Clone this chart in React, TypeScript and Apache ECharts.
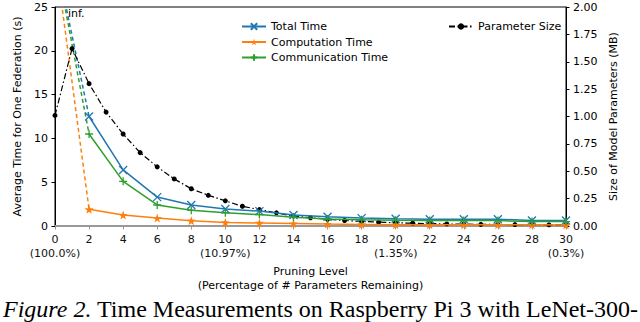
import React, { useEffect, useRef } from "react";
import * as echarts from "echarts";

const levels = [2, 4, 6, 8, 10, 12, 14, 16, 18, 20, 22, 24, 26, 28, 30];
const totalTime = [12.5, 6.4, 3.3, 2.4, 1.95, 1.7, 1.25, 1.05, 0.9, 0.82, 0.78, 0.78, 0.78, 0.62, 0.62];
const computationTime = [1.9, 1.25, 0.9, 0.6, 0.4, 0.35, 0.28, 0.22, 0.18, 0.15, 0.14, 0.14, 0.13, 0.13, 0.12];
const communicationTime = [10.5, 5.1, 2.4, 1.8, 1.5, 1.3, 1.0, 0.8, 0.7, 0.65, 0.62, 0.62, 0.62, 0.5, 0.5];
// level 0 is "inf."; drawn as an off-scale value so the dashed segment is clipped
const infValue = 31;

const paramLevels = Array.from({ length: 31 }, (_, i) => i);
const paramSize = [1.01, 1.62, 1.3, 1.04, 0.84, 0.67, 0.54, 0.43, 0.34, 0.28, 0.23, 0.18, 0.15, 0.12, 0.09, 0.075, 0.062, 0.05, 0.042, 0.035, 0.03, 0.025, 0.022, 0.019, 0.017, 0.015, 0.014, 0.013, 0.012, 0.011, 0.01];

const percentLabels: Record<number, string> = { 0: "(100.0%)", 10: "(10.97%)", 20: "(1.35%)", 30: "(0.3%)" };

const BLUE = "#1f77b4";
const ORANGE = "#ff7f0e";
const GREEN = "#2ca02c";
const FONT = "DejaVu Sans";

const X_SYM = "path://M0,0L10,10M10,0L0,10";
const PLUS_SYM = "path://M5,0L5,10M0,5L10,5";
const STAR_SYM = "path://M5,0L6.18,3.38L9.76,3.45L6.9,5.62L7.94,9.05L5,7L2.06,9.05L3.1,5.62L0.24,3.45L3.82,3.38Z";

function pairs(xs: number[], ys: number[]) {
  return xs.map((x, i) => [x, ys[i]]);
}

export default function App() {
  const ref = useRef<HTMLDivElement>(null);
  useEffect(() => {
    document.body.style.margin = "0";
    const chart = echarts.init(ref.current!, undefined, { renderer: "svg" });
    const lw = 1.5;
    chart.setOption({
      animation: false,
      textStyle: { fontFamily: FONT },
      grid: { left: 55, right: 74, top: 7, bottom: 96, show: true, borderColor: "#000", borderWidth: 1 },
      legend: [
        {
          data: ["Total Time", "Computation Time", "Communication Time"],
          orient: "vertical",
          left: 236,
          top: 15,
          itemWidth: 24,
          itemHeight: 8,
          itemGap: 2.5,
          textStyle: { fontFamily: FONT, fontSize: 11, color: "#000", lineHeight: 13 },
        },
        {
          data: ["Parameter Size"],
          orient: "vertical",
          left: 443,
          top: 15,
          itemWidth: 24,
          itemHeight: 8,
          textStyle: { fontFamily: FONT, fontSize: 11, color: "#000", lineHeight: 13 },
        },
      ],
      xAxis: {
        type: "value",
        min: 0,
        max: 30,
        interval: 2,
        name: "Pruning Level\n(Percentage of # Parameters Remaining)",
        nameLocation: "middle",
        nameGap: 34,
        nameTextStyle: { fontFamily: FONT, fontSize: 11, color: "#000", lineHeight: 14 },
        axisLine: { show: true, lineStyle: { color: "#999", width: 2 } },
        axisTick: { show: true, length: 3.5, lineStyle: { color: "#999" } },
        axisLabel: {
          margin: 6,
          fontFamily: FONT,
          fontSize: 11,
          color: "#111",
          lineHeight: 14,
          formatter: (v: number) => (percentLabels[v] ? `${v}\n${percentLabels[v]}` : `${v}`),
        },
        splitLine: { show: false },
      },
      yAxis: [
        {
          type: "value",
          min: 0,
          max: 25,
          interval: 5,
          name: "Average Time for One Federation (s)",
          nameLocation: "middle",
          nameGap: 29,
          nameRotate: 90,
          nameTextStyle: { fontFamily: FONT, fontSize: 11, color: "#000" },
          axisLine: { show: true, lineStyle: { color: "#000" } },
          axisTick: { show: true, length: 3.5, lineStyle: { color: "#000" } },
          axisLabel: { margin: 7, fontFamily: FONT, fontSize: 11, color: "#000" },
          splitLine: { show: false },
        },
        {
          type: "value",
          min: 0,
          max: 2,
          interval: 0.25,
          name: "Size of Model Parameters (MB)",
          nameLocation: "middle",
          nameGap: 34,
          nameRotate: 90,
          nameTextStyle: { fontFamily: FONT, fontSize: 11, color: "#000" },
          axisLine: { show: true, lineStyle: { color: "#000" } },
          axisTick: { show: true, length: 3.5, lineStyle: { color: "#000" } },
          axisLabel: { margin: 7, fontFamily: FONT, fontSize: 11, color: "#000", formatter: (v: number) => v.toFixed(2) },
          splitLine: { show: false },
        },
      ],
      series: [
        {
          name: "tt_inf",
          type: "line",
          data: [[0, infValue], [levels[0], totalTime[0]]],
          showSymbol: false,
          lineStyle: { color: BLUE, width: lw, type: [4, 3] },
          itemStyle: { color: BLUE },
          z: 2,
        },
        {
          name: "ct_inf",
          type: "line",
          data: [[0, infValue], [levels[0], computationTime[0]]],
          showSymbol: false,
          lineStyle: { color: ORANGE, width: lw, type: [4, 3] },
          itemStyle: { color: ORANGE },
          z: 2,
        },
        {
          name: "cm_inf",
          type: "line",
          data: [[0, infValue], [levels[0], communicationTime[0]]],
          showSymbol: false,
          lineStyle: { color: GREEN, width: lw, type: [4, 3] },
          itemStyle: { color: GREEN },
          z: 2,
        },
        {
          name: "Parameter Size",
          type: "line",
          yAxisIndex: 1,
          data: pairs(paramLevels, paramSize),
          symbol: "circle",
          symbolSize: 5,
          lineStyle: { color: "#000", width: 1.2, type: [6, 2.5, 1.5, 2.5] },
          itemStyle: { color: "#000" },
          z: 3,
        },
        {
          name: "Total Time",
          type: "line",
          data: pairs(levels, totalTime),
          symbol: X_SYM,
          symbolSize: 8,
          lineStyle: { color: BLUE, width: lw },
          itemStyle: { color: "none", borderColor: BLUE, borderWidth: 1.3 },
          z: 4,
        },
        {
          name: "Computation Time",
          type: "line",
          data: pairs(levels, computationTime),
          symbol: STAR_SYM,
          symbolSize: 9,
          lineStyle: { color: ORANGE, width: lw },
          itemStyle: { color: ORANGE },
          z: 4,
        },
        {
          name: "Communication Time",
          type: "line",
          data: pairs(levels, communicationTime),
          symbol: PLUS_SYM,
          symbolSize: 8,
          lineStyle: { color: GREEN, width: lw },
          itemStyle: { color: "none", borderColor: GREEN, borderWidth: 1.3 },
          z: 4,
        },
      ],
      graphic: [
        {
          type: "text",
          left: 68,
          top: 8,
          style: { text: "inf.", fontFamily: FONT, fontSize: 11, fill: "#000" },
        },
        {
          type: "text",
          x: 3,
          y: 309,
          style: {
            text: "{i|Figure 2.} Time Measurements on Raspberry Pi 3 with LeNet-300-",
            fontFamily: "Liberation Serif",
            fontSize: 24,
            lineHeight: 24,
            fill: "#000",
            verticalAlign: "middle",
            rich: {
              i: { fontStyle: "italic", fontFamily: "Liberation Serif", fontSize: 24, lineHeight: 24, fill: "#000" },
            },
          },
        },
      ],
    });
    return () => chart.dispose();
  }, []);
  return <div ref={ref} style={{ width: 640, height: 322 }} />;
}
